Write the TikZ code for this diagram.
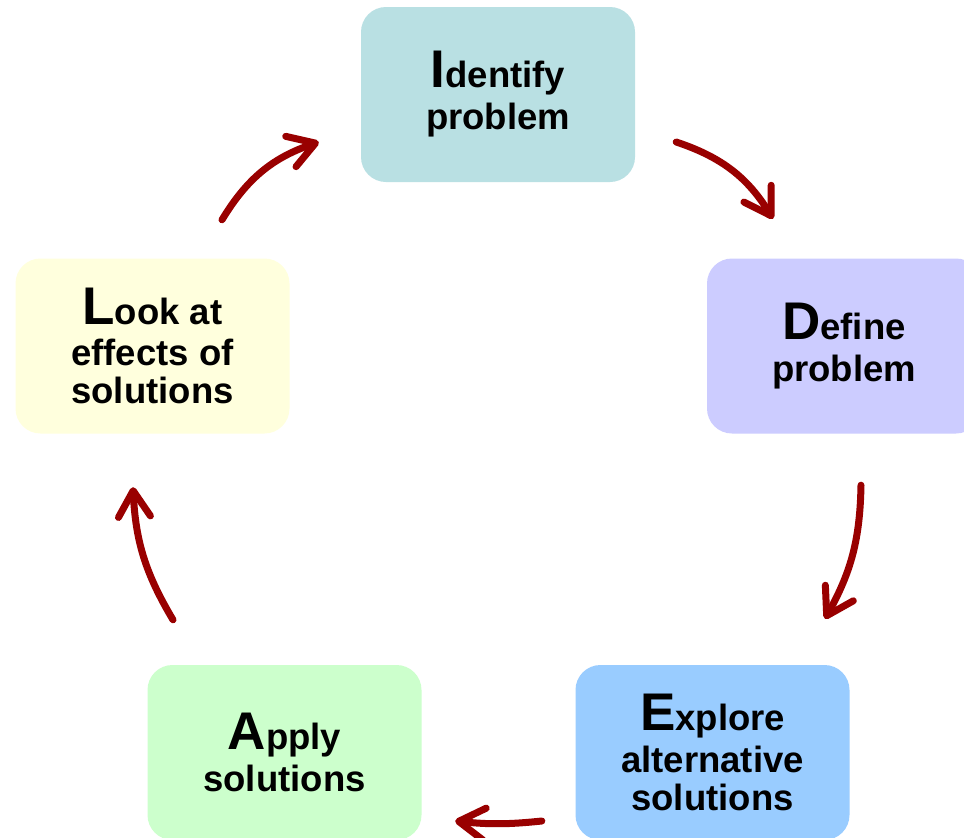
\documentclass[tikz,border=0pt]{standalone}
\usepackage{fontspec}
\setmainfont{Liberation Sans}
\usetikzlibrary{arrows.meta}
\definecolor{idcol}{HTML}{B9E0E3}
\definecolor{defcol}{HTML}{CCCCFF}
\definecolor{expcol}{HTML}{99CCFF}
\definecolor{appcol}{HTML}{CCFFCC}
\definecolor{lookcol}{HTML}{FFFFDD}
\definecolor{arrowred}{HTML}{990000}
\newcommand\capletter[1]{{\fontsize{53}{53}\selectfont #1}}
\tikzset{
  stage/.style={rectangle, rounded corners=25pt, minimum width=274pt,
    minimum height=175pt, inner sep=0pt, align=center,
    font=\fontsize{36.5}{38}\selectfont\bfseries},
  flow/.style={draw=arrowred, line width=7pt, line cap=round,
    -{Straight Barb[length=26pt,width=32pt,line cap=round,line join=round]}}
}
\begin{document}
\begin{tikzpicture}[x=1pt,y=-1pt]
\clip (0,0) rectangle (964,838);
\fill[white] (0,0) rectangle (964,838);

% the five stages of the cycle
\node[stage, fill=idcol]   (iden) at (498,94.5)  {\capletter{I}dentify\\[4pt]problem};
\node[stage, fill=defcol]  (def)  at (844,346)   {\capletter{D}efine\\[4pt]problem};
\node[stage, fill=expcol]  (expl) at (712.5,752.5) {\capletter{E}xplore\\[4pt]alternative\\solutions};
\node[stage, fill=appcol]  (appl) at (284.5,752.5) {\capletter{A}pply\\[4pt]solutions};
\node[stage, fill=lookcol] (look) at (152.5,346) {\capletter{L}ook at\\[3pt]effects of\\solutions};

% curved arrows going round clockwise
\draw[flow] ([shift={(41,47.5)}]iden.east) to[bend left=20] ([shift={(-71,-39.5)}]def.north);
\draw[flow] ([shift={(17,51.5)}]def.south) to[bend left=14] ([shift={(112.5,-46)}]expl.north);
\draw[flow] ([shift={(-33.5,68.5)}]expl.west) to[bend left=6] ([shift={(33.5,68.5)}]appl.east);
\draw[flow] ([shift={(-111.5,-45)}]appl.north) to[bend left=14] ([shift={(-19.5,53.5)}]look.south);
\draw[flow] ([shift={(69.5,-38.5)}]look.north) to[bend left=20] ([shift={(-42,47.5)}]iden.west);
\end{tikzpicture}
\end{document}
